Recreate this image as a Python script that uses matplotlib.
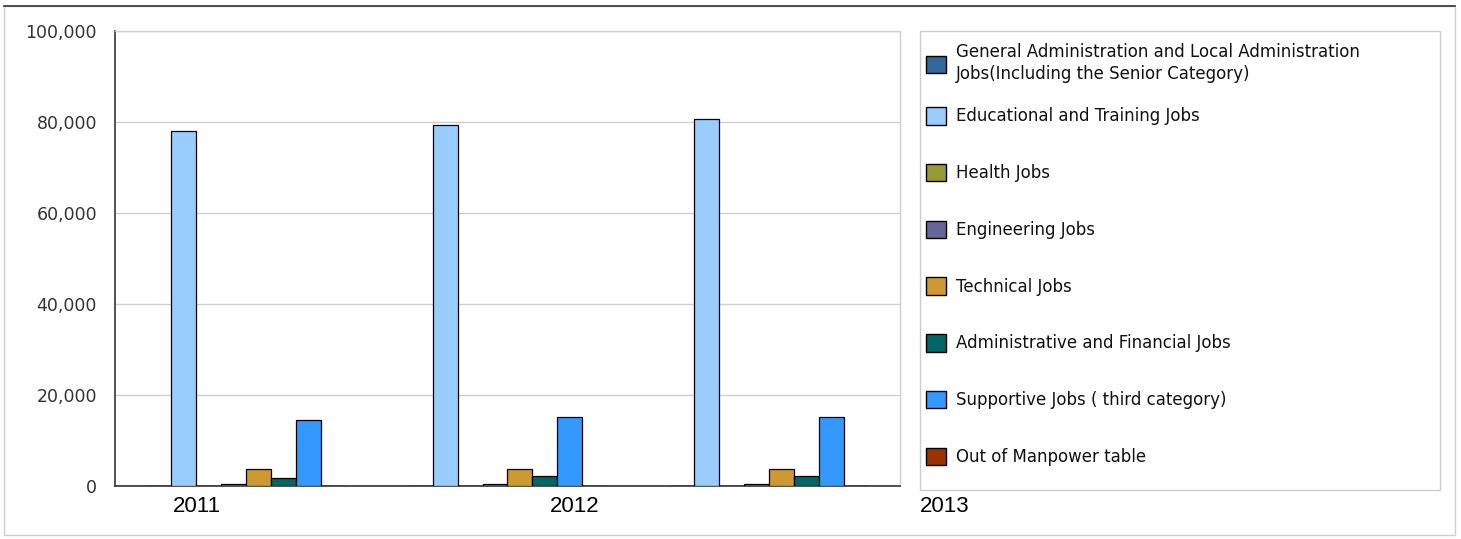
import matplotlib
matplotlib.use("Agg")
import matplotlib.pyplot as plt
from matplotlib.patches import Rectangle, Patch
from matplotlib.lines import Line2D
from matplotlib.ticker import FuncFormatter
import numpy as np

years = ["2011", "2012", "2013"]
series_names = [
    "General Administration and Local Administration\nJobs(Including the Senior Category)",
    "Educational and Training Jobs",
    "Health Jobs",
    "Engineering Jobs",
    "Technical Jobs",
    "Administrative and Financial Jobs",
    "Supportive Jobs ( third category)",
    "Out of Manpower table",
]
general_admin = [0, 0, 0]
educational = [78000, 79300, 80600]
health = [0, 0, 0]
engineering = [400, 400, 400]
technical = [3650, 3650, 3650]
admin_financial = [1800, 2250, 2200]
supportive = [14500, 15100, 15100]
out_of_table = [0, 0, 0]
series_values = [general_admin, educational, health, engineering,
                 technical, admin_financial, supportive, out_of_table]
colors = ["#336699", "#99CCFF", "#999933", "#666699",
          "#CC9933", "#006666", "#3399FF", "#993300"]
y_ticks = [0, 20000, 40000, 60000, 80000, 100000]

W, H = 1461, 539
fig = plt.figure(figsize=(W / 100, H / 100), dpi=100)
fig.patch.set_facecolor("white")

# outer frame
fig.add_artist(Rectangle((4 / W, 1 - 535 / H), 1451 / W, 529 / H,
                         transform=fig.transFigure, fill=False,
                         edgecolor="#cfcfcf", linewidth=1.0))
fig.add_artist(Line2D([4 / W, 1455 / W], [1 - 6 / H, 1 - 6 / H],
                      transform=fig.transFigure, color="#333333", linewidth=1.2))

ax = fig.add_axes([115 / W, 1 - 486 / H, 785 / W, 455 / H])
n = len(series_values)
bar_w = 0.0954
x = np.arange(len(years)) + 0.5
for i, (vals, col, name) in enumerate(zip(series_values, colors, series_names)):
    ax.bar(x + (i - (n - 1) / 2) * bar_w, vals, width=bar_w, color=col,
           edgecolor="black", linewidth=0.9, label=name, zorder=3)

ax.set_xlim(0, len(years))
ax.set_ylim(0, 100000)
ax.set_yticks(y_ticks)
ax.yaxis.set_major_formatter(FuncFormatter(lambda v, p: f"{int(v):,}"))
ax.tick_params(axis="y", length=0, pad=13, labelsize=12.5, labelcolor="#333333")
ax.set_xticks([])
ax.grid(axis="y", color="#d0d0d0", linewidth=1.0, zorder=0)
for s in ["top", "right"]:
    ax.spines[s].set_color("#d0d0d0")
    ax.spines[s].set_linewidth(1.0)
for s in ["left", "bottom"]:
    ax.spines[s].set_color("#333333")
    ax.spines[s].set_linewidth(1.2)

# category labels
label_px = [197, 575, 945]
for yr, px in zip(years, label_px):
    fig.text(px / W, 1 - 507 / H, yr, ha="center", va="center",
             fontsize=16, family="Liberation Sans", color="black")

# legend box
fig.add_artist(Rectangle((920 / W, 1 - 490 / H), 520 / W, 459 / H,
                         transform=fig.transFigure, fill=False,
                         edgecolor="#cccccc", linewidth=1.0))
handles = [Patch(facecolor=c, edgecolor="black", linewidth=1.0) for c in colors]
leg_kw = dict(loc="upper left", frameon=False, fontsize=12, labelspacing=2.3,
              handlelength=1.2, handleheight=1.25, handletextpad=0.6,
              borderpad=0, borderaxespad=0)
# the two-line entry sits in its own block so the rest keep an even pitch
leg_top = fig.legend(handles[:1], series_names[:1],
                     bbox_to_anchor=(926 / W, 1 - 43 / H), **leg_kw)
leg_rest = fig.legend(handles[1:], series_names[1:],
                      bbox_to_anchor=(926 / W, 1 - 107 / H), **leg_kw)
for leg in (leg_top, leg_rest):
    for t in leg.get_texts():
        t.set_color("#111111")
        t.set_linespacing(1.3)

fig.savefig("out.png", dpi=100, facecolor="white")
